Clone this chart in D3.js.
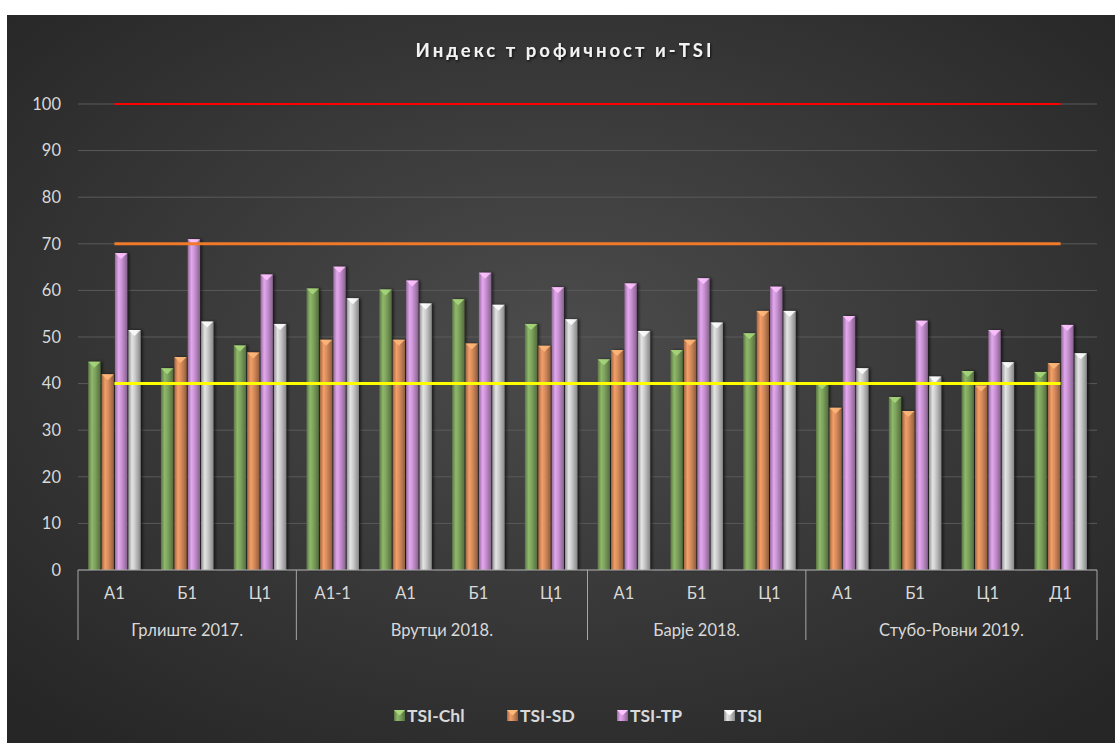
<!DOCTYPE html>
<html><head><meta charset="utf-8">
<script src="https://cdn.jsdelivr.net/npm/d3@7"></script>
<style>body{margin:0;background:#fff;}svg{display:block;}</style>
</head><body>
<svg id="c" width="1115" height="743"></svg>
<script>
const title = "Индекс т рофичност и-TSI";
const groups = ["Грлиште 2017.", "Врутци 2018.", "Барје 2018.", "Стубо-Ровни 2019."];
const groupSizes = [3, 4, 3, 4];
const categories = ["А1","Б1","Ц1","А1-1","А1","Б1","Ц1","А1","Б1","Ц1","А1","Б1","Ц1","Д1"];
const seriesNames = ["TSI-Chl","TSI-SD","TSI-TP","TSI"];
const tsiChl = [44.7,43.3,48.2,60.4,60.2,58.1,52.8,45.2,47.2,50.8,40.1,37.1,42.7,42.5];
const tsiSD  = [42.0,45.7,46.7,49.4,49.4,48.6,48.1,47.2,49.4,55.6,34.8,34.1,39.6,44.4];
const tsiTP  = [68.0,71.0,63.4,65.1,62.1,63.8,60.7,61.5,62.6,60.8,54.5,53.5,51.5,52.6];
const tsi    = [51.5,53.3,52.8,58.3,57.2,56.9,53.8,51.3,53.1,55.6,43.3,41.5,44.6,46.5];
const refLines = [100, 70, 40];
const yTicks = [0,10,20,30,40,50,60,70,80,90,100];

(function(){
const seriesValues = [tsiChl, tsiSD, tsiTP, tsi];
const baseColors = ["#7ea35e","#d88c5c","#c993d3","#c9c9c9"];
const refColors = ["#ff0000","#f07a2a","#ffff00"];
const refWidths = [2, 3, 3];

const svg = d3.select("#c");
const defs = svg.append("defs");

const bg = defs.append("radialGradient").attr("id","bg").attr("cx","50%").attr("cy","45%").attr("r","70%");
bg.append("stop").attr("offset","0%").attr("stop-color","#4c4c4c");
bg.append("stop").attr("offset","100%").attr("stop-color","#262626");
svg.append("rect").attr("x",7).attr("y",15).attr("width",1108).attr("height",728).attr("fill","url(#bg)");

baseColors.forEach((c,i)=>{
  const g = defs.append("linearGradient").attr("id","bar"+i).attr("x1","0").attr("x2","1").attr("y1","0").attr("y2","0");
  const col = d3.color(c);
  g.append("stop").attr("offset","0%").attr("stop-color",col.darker(0.9));
  g.append("stop").attr("offset","30%").attr("stop-color",col.brighter(0.35));
  g.append("stop").attr("offset","55%").attr("stop-color",col);
  g.append("stop").attr("offset","100%").attr("stop-color",col.darker(1.1));
});
const sh = defs.append("filter").attr("id","shadow").attr("x","-50%").attr("y","-10%").attr("width","200%").attr("height","120%");
sh.append("feDropShadow").attr("dx",2).attr("dy",0).attr("stdDeviation",1.5).attr("flood-color","#000").attr("flood-opacity",0.6);
const tsh = defs.append("filter").attr("id","tshadow");
tsh.append("feDropShadow").attr("dx",1).attr("dy",1.5).attr("stdDeviation",1).attr("flood-color","#000").attr("flood-opacity",0.7);

const pL = 78, pR = 1097, pT = 104, pB = 570;
const x = d3.scaleBand().domain(d3.range(categories.length)).range([pL,pR]).padding(0);
const y = d3.scaleLinear().domain([0,100]).range([pB, pT]);
const xs = d3.scaleBand().domain(d3.range(4)).range([0, x.bandwidth()]).paddingInner(0.08).paddingOuter(0.76);
const font = "Lato, 'Open Sans', sans-serif";

svg.append("g").selectAll("line").data(yTicks).join("line")
  .attr("x1",pL).attr("x2",pR).attr("y1",d=>y(d)).attr("y2",d=>y(d))
  .attr("stroke","#5a5a5a").attr("stroke-width",1);

svg.append("g").selectAll("text").data(yTicks).join("text")
  .attr("x",61).attr("y",d=>y(d)).attr("dy","0.35em").attr("text-anchor","end")
  .attr("fill","#d9d9d9").attr("font-family",font).attr("font-size",16.5)
  .text(d=>d);

const barG = svg.append("g");
seriesValues.forEach((vals, si)=>{
  const g = barG.append("g");
  g.selectAll("rect").data(vals).join("rect")
    .attr("x",(d,i)=>x(i)+xs(si)).attr("y",d=>y(d))
    .attr("width",xs.bandwidth()).attr("height",d=>y(0)-y(d))
    .attr("fill","url(#bar"+si+")").attr("filter","url(#shadow)");
  g.selectAll("path").data(vals).join("path")
    .attr("d",(d,i)=>{
      const x0 = x(i)+xs(si), w = xs.bandwidth(), y0 = y(d);
      return `M${x0},${y0} L${x0+w},${y0} L${x0+w/2},${y0+6} Z`;
    })
    .attr("fill", d3.color(baseColors[si]).brighter(0.8)).attr("opacity",0.85);
});

const c0 = x(0)+x.bandwidth()/2, c1 = x(categories.length-1)+x.bandwidth()/2;
svg.append("g").selectAll("line").data(refLines).join("line")
  .attr("x1",c0).attr("x2",c1).attr("y1",d=>y(d)).attr("y2",d=>y(d))
  .attr("stroke",(d,i)=>refColors[i]).attr("stroke-width",(d,i)=>refWidths[i]);

const axisCol = "#a6a6a6";
svg.append("line").attr("x1",pL).attr("x2",pR).attr("y1",pB).attr("y2",pB).attr("stroke",axisCol).attr("stroke-width",1);
let acc = 0; const bounds = [0];
groupSizes.forEach(s=>{acc+=s; bounds.push(acc);});
const bx = d => d<categories.length ? x(d) : pR;
svg.append("g").selectAll("line").data(bounds).join("line")
  .attr("x1",bx).attr("x2",bx)
  .attr("y1",pB).attr("y2",640).attr("stroke",axisCol).attr("stroke-width",1);
svg.append("g").selectAll("text").data(categories).join("text")
  .attr("x",(d,i)=>x(i)+x.bandwidth()/2).attr("y",599).attr("text-anchor","middle")
  .attr("fill","#d9d9d9").attr("font-family",font).attr("font-size",16.5).text(d=>d);
svg.append("g").selectAll("text").data(groups).join("text")
  .attr("x",(d,i)=>(bx(bounds[i])+bx(bounds[i+1]))/2)
  .attr("y",636).attr("text-anchor","middle")
  .attr("fill","#d9d9d9").attr("font-family",font).attr("font-size",16.5).text(d=>d);

svg.append("text").attr("x",565).attr("y",57).attr("text-anchor","middle")
  .attr("fill","#f2f2f2").attr("font-family",font).attr("font-size",18.5).attr("font-weight","bold")
  .attr("letter-spacing",3).attr("filter","url(#tshadow)").text(title);

const legX = [394, 507, 617, 724];
const lg = svg.append("g");
seriesNames.forEach((n,i)=>{
  const g = lg.append("g").attr("transform",`translate(${legX[i]},716)`);
  g.append("rect").attr("x",0).attr("y",-6).attr("width",11).attr("height",11).attr("fill","url(#bar"+i+")");
  g.append("path").attr("d","M0,-6 L11,-6 L5.5,-0.5 Z").attr("fill",d3.color(baseColors[i]).brighter(0.8));
  g.append("text").attr("x",13).attr("y",0).attr("dy","0.35em").attr("fill","#d9d9d9")
    .attr("font-family",font).attr("font-size",17.5).attr("font-weight","bold").text(n);
});
})();
</script>
</body></html>
